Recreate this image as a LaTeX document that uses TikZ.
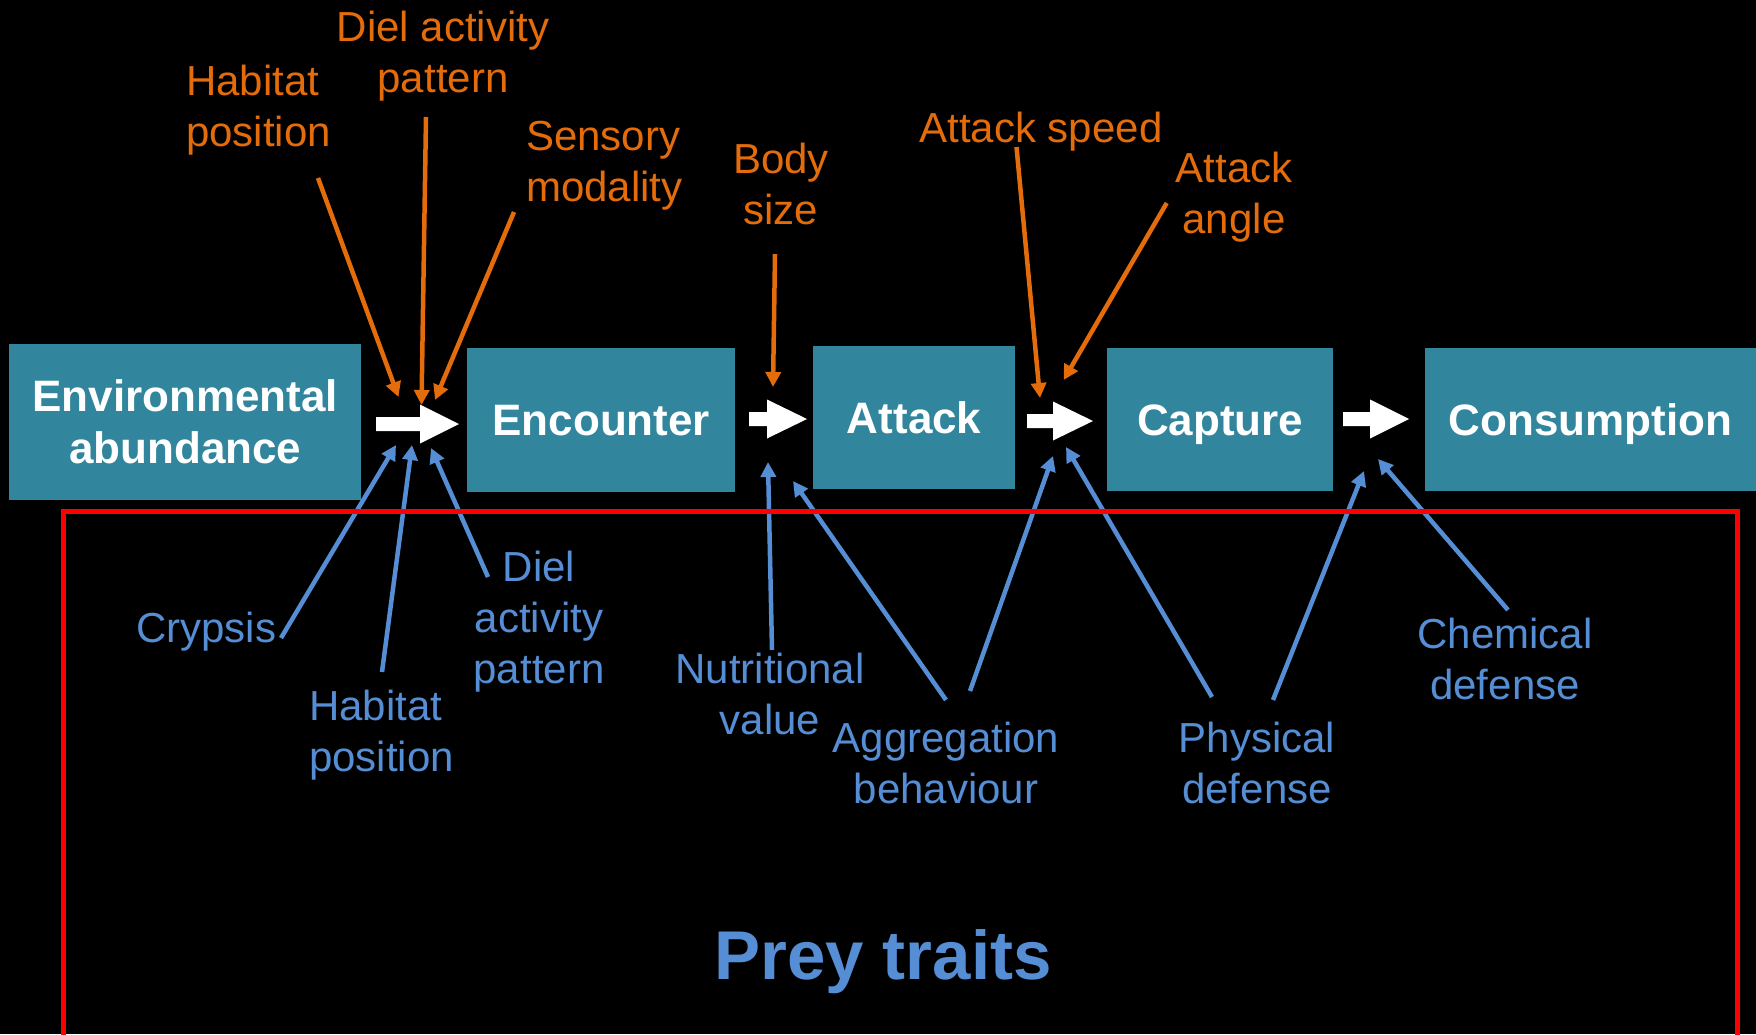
\documentclass[tikz,border=0pt]{standalone}
\usepackage{fontspec}
\setmainfont{Liberation Sans}
\usetikzlibrary{arrows.meta}

\definecolor{boxteal}{HTML}{31859C}
\definecolor{traitorange}{HTML}{E46C0A}
\definecolor{traitblue}{HTML}{558ED5}
\definecolor{framered}{HTML}{FF0000}

% multi-line labels whose baseline is that of the first line
\newcommand\stackc[1]{\begin{tabular}[t]{@{}c@{}}#1\end{tabular}}
\newcommand\stackl[1]{\begin{tabular}[t]{@{}l@{}}#1\end{tabular}}
\newcommand\lblfont{\fontsize{42}{51}\selectfont}
% white block arrow: start x, head start x, tip x, centre y
\newcommand\flowarrow[4]{%
  \fill[flow] (#1,#4-7) -- (#2,#4-7) -- (#2,#4-19.5) -- (#3,#4)
    -- (#2,#4+19.5) -- (#2,#4+7) -- (#1,#4+7) -- cycle;}

\begin{document}
\begin{tikzpicture}[x=1pt,y=-1pt,
  stage/.style={fill=boxteal, text=white,
    font=\bfseries\fontsize{44}{52}\selectfont,
    inner sep=0pt, anchor=north west},
  oneline/.style={text height=31.5pt, text depth=0pt},
  flow/.style={fill=white},
  olbl/.style={text=traitorange, font=\lblfont, inner sep=0pt, anchor=base},
  blbl/.style={text=traitblue, font=\lblfont, inner sep=0pt, anchor=base},
  oarrow/.style={draw=traitorange, line width=4.5pt,
    -{Triangle[length=15pt,width=15pt]}},
  barrow/.style={draw=traitblue, line width=4.5pt,
    -{Triangle[length=15pt,width=15pt]}},
  frame/.style={draw=framered, line width=5pt}
]
\useasboundingbox (0,0) rectangle (1756,1034);
\fill[black] (0,0) rectangle (1756,1034);

% stages of the predation sequence
\node[stage, minimum width=352pt, minimum height=156pt, align=center]
  (env) at (9,344) {Environmental\\abundance};
\node[stage, oneline, minimum width=268pt, minimum height=144pt]
  (enc) at (467,348) {Encounter};
\node[stage, oneline, minimum width=202pt, minimum height=143pt]
  (att) at (813,346) {Attack};
\node[stage, oneline, minimum width=226pt, minimum height=143pt]
  (cap) at (1107,348) {Capture};
\node[stage, oneline, minimum width=331pt, minimum height=143pt]
  (con) at (1425,348) {Consumption};

% transitions between stages
\flowarrow{376}{420}{459}{424}
\flowarrow{749}{767}{807}{419}
\flowarrow{1027}{1053}{1093}{421}
\flowarrow{1343}{1370}{1409}{419}

% predator traits
\node[olbl, anchor=base west] (phab) at (186,95) {\stackl{Habitat\\position}};
\node[olbl] (pdiel) at (443,41) {\stackc{Diel activity\\pattern}};
\node[olbl, anchor=base west] (psens) at (526,150) {\stackl{Sensory\\modality}};
\node[olbl] (pbody) at (781,173) {\stackc{Body\\size}};
\node[olbl] (pspeed) at (1041,142) {Attack speed};
\node[olbl] (pangle) at (1234,182) {\stackc{Attack\\angle}};

\coordinate (phab0) at (318,178);    \coordinate (phab1) at (398.5,397);
\coordinate (pdiel0) at (426,117);   \coordinate (pdiel1) at (421.5,405);
\coordinate (psens0) at (514,212);   \coordinate (psens1) at (435,400);
\coordinate (pbody0) at (775,254);   \coordinate (pbody1) at (773,387);
\coordinate (pspeed0) at (1016.5,147); \coordinate (pspeed1) at (1040,398);
\coordinate (pangle0) at (1166.7,203); \coordinate (pangle1) at (1063.6,380);

\draw[oarrow] (phab0) -- (phab1);
\draw[oarrow] (pdiel0) -- (pdiel1);
\draw[oarrow] (psens0) -- (psens1);
\draw[oarrow] (pbody0) -- (pbody1);
\draw[oarrow] (pspeed0) -- (pspeed1);
\draw[oarrow] (pangle0) -- (pangle1);

% prey traits
\node[blbl, anchor=base west] (qcryp) at (136,642) {Crypsis};
\node[blbl, anchor=base west] (qhab) at (309,720) {\stackl{Habitat\\position}};
\node[blbl] (qdiel) at (539,581) {\stackc{Diel\\activity\\pattern}};
\node[blbl] (qnut) at (770,683) {\stackc{Nutritional\\value}};
\node[blbl] (qagg) at (946,752) {\stackc{Aggregation\\behaviour}};
\node[blbl] (qphys) at (1257,752) {\stackc{Physical\\defense}};
\node[blbl] (qchem) at (1505,648) {\stackc{Chemical\\defense}};

\coordinate (qcryp0) at (281,638);  \coordinate (qcryp1) at (396,445);
\coordinate (qhab0) at (382,672);   \coordinate (qhab1) at (412,445);
\coordinate (qdiel0) at (488,577);  \coordinate (qdiel1) at (431,448);
\coordinate (qnut0) at (772,650);   \coordinate (qnut1) at (768,462);
\coordinate (qaggA) at (946,700);   \coordinate (qaggA1) at (793,481);
\coordinate (qaggB) at (970,691);   \coordinate (qaggB1) at (1053,456);
\coordinate (qphysA) at (1212,697); \coordinate (qphysA1) at (1066,447);
\coordinate (qphysB) at (1273,700); \coordinate (qphysB1) at (1364,471);
\coordinate (qchem0) at (1508,610); \coordinate (qchem1) at (1378,459);

\draw[barrow] (qcryp0) -- (qcryp1);
\draw[barrow] (qhab0) -- (qhab1);
\draw[barrow] (qdiel0) -- (qdiel1);
\draw[barrow] (qnut0) -- (qnut1);
\draw[barrow] (qaggA) -- (qaggA1);
\draw[barrow] (qaggB) -- (qaggB1);
\draw[barrow] (qphysA) -- (qphysA1);
\draw[barrow] (qphysB) -- (qphysB1);
\draw[barrow] (qchem0) -- (qchem1);

% frame around the prey traits
\coordinate (fbl) at (63,1045);
\coordinate (ftl) at (63,511.5);
\coordinate (ftr) at (1737,511.5);
\coordinate (fbr) at (1737,1045);
\draw[frame] (fbl) -- (ftl) -- (ftr) -- (fbr);

\node[text=traitblue, font=\bfseries\fontsize{69}{80}\selectfont,
  inner sep=0pt, anchor=base] (prey) at (883,979) {Prey traits};
\end{tikzpicture}
\end{document}
